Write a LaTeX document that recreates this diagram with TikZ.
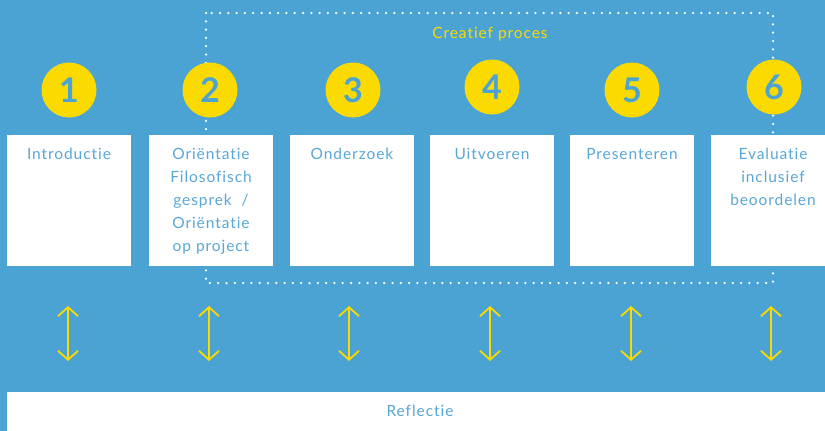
\documentclass[tikz,border=0pt]{standalone}
\usepackage{fontspec}
\setmainfont{Lato}[LetterSpace=6, Ligatures={NoCommon,NoContextual}]
\newfontfamily\numfont{Lato}[UprightFont=* Bold]
\usetikzlibrary{arrows.meta}
\definecolor{bgblue}{RGB}{75,163,211}
\definecolor{txtblue}{RGB}{88,167,216}
\definecolor{yel}{RGB}{250,218,0}
\tikzset{
  x=1pt, y=-1pt,
  box/.style={fill=white, draw=none, minimum width=124pt, minimum height=130.5pt, inner sep=0pt},
  boxtext/.style={anchor=north, align=center, text=txtblue, font=\fontsize{15.5}{23}\selectfont, inner sep=0pt},
  num/.style={circle, fill=yel, minimum size=55pt, inner sep=0pt, text=bgblue, font=\numfont\fontsize{34}{34}\selectfont},
  link/.style={draw=yel, line width=1.8pt, {Straight Barb[length=9pt,width=20pt,line width=1.8pt]}-{Straight Barb[length=9pt,width=20pt,line width=1.8pt]}},
  frame/.style={draw=white, line width=2.5pt, line cap=round, dash pattern=on 0pt off 8.3pt},
}
\begin{document}
\begin{tikzpicture}
\fill[bgblue] (0,0) rectangle (825,431);
\useasboundingbox (0,0) rectangle (825,431);
% dotted frame
\draw[frame] (206,13) rectangle (773,283);
% boxes
\foreach \i/\x in {1/69,2/211,3/352,4/492,5/632,6/773}{
  \node[box] (b\i) at (\x,200.25) {};
}
\node[boxtext] at ([yshift=-13pt]b1.north) {Introductie};
\node[boxtext] at ([yshift=-13pt]b2.north) {Oriëntatie\\Filosofisch\\gesprek\ \ /\\Oriëntatie\\op project};
\node[boxtext] at ([yshift=-13pt]b3.north) {Onderzoek};
\node[boxtext] at ([yshift=-13pt]b4.north) {Uitvoeren};
\node[boxtext] at ([yshift=-13pt]b5.north) {Presenteren};
\node[boxtext] at ([yshift=-13pt]b6.north) {Evaluatie\\inclusief\\beoordelen};
% circles
\node[num] (n1) at (69,90) {1};
\node[num] (n2) at (210,90) {2};
\node[num] (n3) at (353,90) {3};
\node[num] (n4) at (492,87) {4};
\node[num] (n5) at (632,90) {5};
\node[num] (n6) at (774,87) {6};
% creatief proces
\node[text=yel, font=\fontsize{15.5}{15.5}\selectfont, inner sep=0pt] (cp) at (490,34) {Creatief proces};
% reflectie
\node[fill=white, minimum width=830pt, minimum height=40pt, inner sep=0pt, anchor=north west] (refl) at (7,392) {};
\node[text=txtblue, font=\fontsize{15.5}{15.5}\selectfont, inner sep=0pt] at (420,411) {Reflectie};
% arrows
\foreach \i/\x in {1/68,2/209,3/349,4/490,5/631,6/771}{
  \coordinate (t\i) at (\x,306);
  \coordinate (u\i) at (\x,361);
  \draw[link] (t\i) -- (u\i);
}
\end{tikzpicture}
\end{document}
